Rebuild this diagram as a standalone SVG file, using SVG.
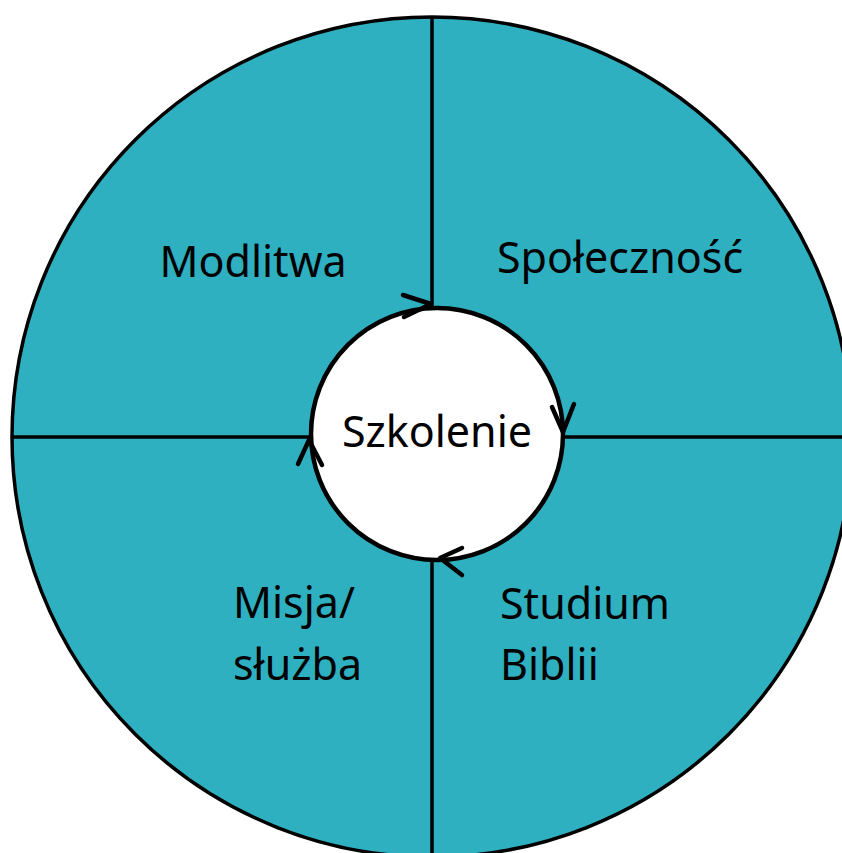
<svg xmlns="http://www.w3.org/2000/svg" width="842" height="853" viewBox="0 0 842 853">
<style>
.lbl{font-family:"Noto Sans","Open Sans","DejaVu Sans",sans-serif;font-size:43px;fill:#000}
.ln{stroke:#000;stroke-width:3.5;fill:none}
.arr{stroke:#000;stroke-width:4.5;fill:none;stroke-linecap:round;stroke-linejoin:round}
</style>
<rect width="842" height="853" fill="#fff"/>
<g id="wheel">
<circle cx="432" cy="437" r="420" fill="#2EB0C1" stroke="#000" stroke-width="3.5"/>
</g>
<g id="connectors">
<line class="ln" x1="432" y1="17" x2="432" y2="853"/>
<line class="ln" x1="12" y1="437" x2="842" y2="437"/>
</g>
<g id="center">
<circle cx="437" cy="434" r="126" fill="#fff" stroke="#000" stroke-width="4.5"/>
<text class="lbl" x="437" y="447" text-anchor="middle">Szkolenie</text>
</g>
<g id="cycle-arrows">
<polyline class="arr" points="403,295 431,304 404,317"/>
<polyline class="arr" points="552,407 563,432 574,404"/>
<polyline class="arr" points="462,548 440,558 462,575"/>
<polyline class="arr" points="298,464 309,440 322,465"/>
</g>
<g id="modlitwa"><text class="lbl" x="253" y="277" text-anchor="middle">Modlitwa</text></g>
<g id="spolecznosc"><text class="lbl" x="620" y="273" text-anchor="middle">Społeczność</text></g>
<g id="misja"><text class="lbl" x="233" y="618">Misja/</text><text class="lbl" x="233" y="680">służba</text></g>
<g id="studium"><text class="lbl" x="500" y="619">Studium</text><text class="lbl" x="500" y="680">Biblii</text></g>
</svg>
